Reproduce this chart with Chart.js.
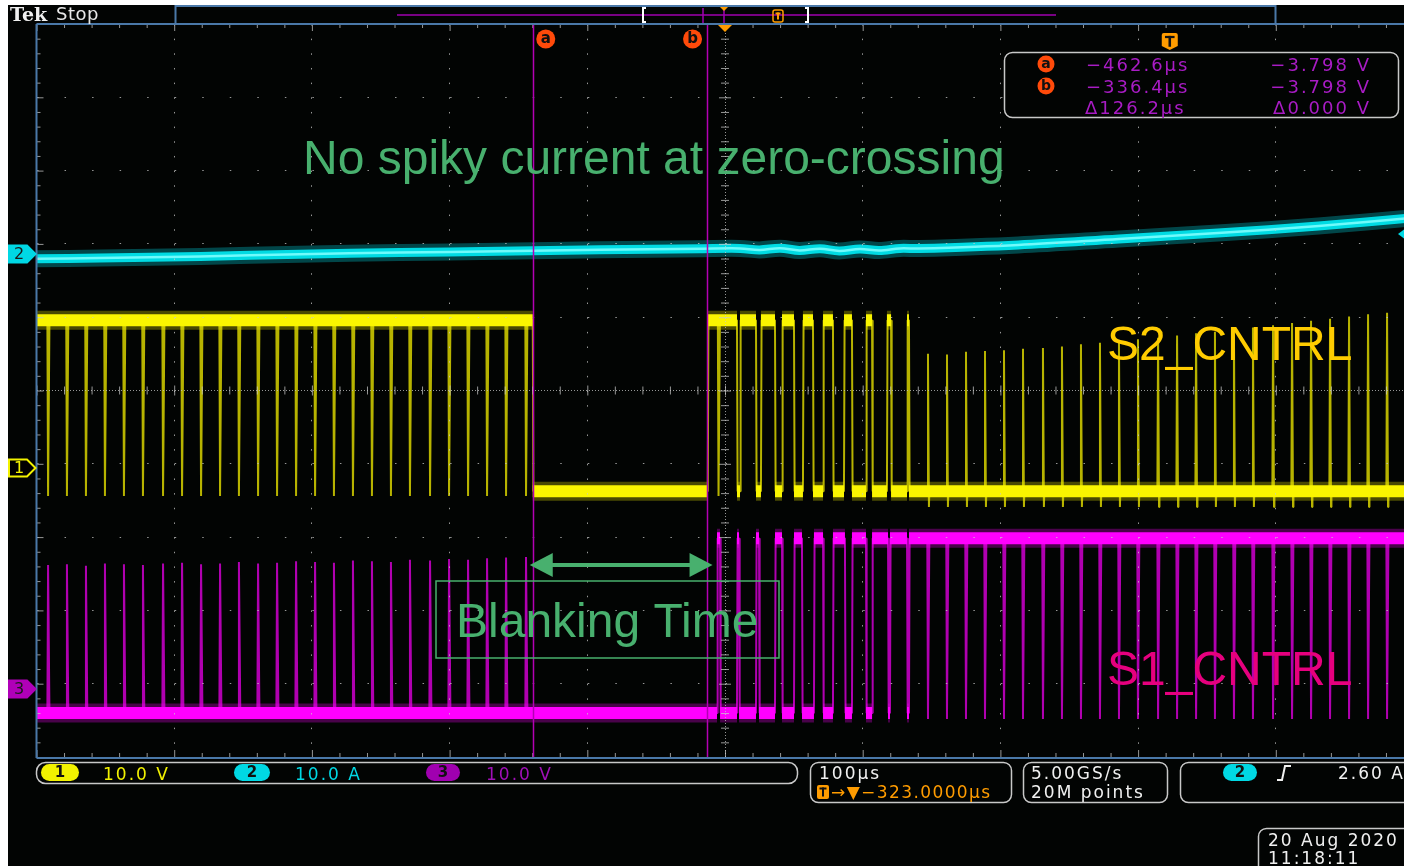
<!DOCTYPE html>
<html>
<head>
<meta charset="utf-8">
<script src="https://cdn.jsdelivr.net/npm/chart.js@4.4.1/dist/chart.umd.min.js"></script>
<style>
  html, body { margin: 0; padding: 0; background: #fff; overflow: hidden; width: 1404px; height: 866px; }
  canvas { position: absolute; left: 0; top: 0; }
</style>
</head>
<body>
<canvas id="scope" width="1420" height="866"></canvas>
<script>
// ---- Horizontal: 100 µs/div, 10 divisions, centre at -323 µs ----
const X_MIN = -823;
const X_MAX = 177;
const X_CENTER = -323;
const cursorTimes = [-462.6, -336.4];

// ---- Vertical settings (divisions from screen centre, units per division) ----
const ch1OffsetDiv = -1.05;
const ch2OffsetDiv = 1.876;
const ch3OffsetDiv = -4.06;
const UNITS_PER_DIV = 10;

// ---- CH2: inductor current (A) ----
const ch2Times = [-823, -777, -704, -632, -559, -487, -414, -341, -312, -298, -283, -269, -254, -240, -225, -211, -196, -182, -110, -37, 35, 108, 177];
const ch2Amps  = [-0.80, -0.68, -0.48, -0.16, 0.05, 0.25, 0.45, 0.58, 0.62, 0.42, 0.66, 0.35, 0.58, 0.28, 0.55, 0.34, 0.62, 0.60, 1.09, 1.91, 2.73, 3.68, 4.80];

// ---- CH1: S2_CNTRL gate drive (V) ----
const ch1HighLevel = 20.1;
const ch1LowLevel = -3.25;
const ch1HighSpans = [
  [-823, -462.6], [-335.5, -314.3], [-312.1, -300.5], [-296.9, -286.7], [-281.6, -272.9],
  [-266.4, -259.1], [-251.8, -244.6], [-236.6, -230.8], [-220.6, -216.2], [-205.4, -202.4], [-190.8, -189.4]
];
const ch1DipTimes = [-814.6, -800.9, -787.1, -773.3, -759.5, -745.7, -731.1, -717.3, -703.5, -689.7, -676.0, -662.1, -648.3,
  -634.5, -620.7, -607.0, -593.2, -579.4, -565.6, -551.8, -537.2, -523.4, -509.6, -495.8, -482.0, -467.5, -327.7];
const ch1DipFloor = -3.9;
const ch1SpikeTimes = [-175.6, -161.8, -148.0, -134.2, -120.4, -106.6, -92.1, -78.3, -64.5, -50.7, -36.9, -23.1, -8.5,
  5.3, 19.1, 32.8, 46.6, 60.4, 75.0, 88.8, 102.6, 116.4, 130.2, 144.0, 157.8];
const ch1SpikePeaks = [15.5, 15.4, 15.8, 15.9, 16.0, 16.2, 16.3, 16.5, 16.8, 17.0, 17.2, 17.5, 17.7,
  18.0, 18.3, 18.5, 18.8, 19.1, 19.4, 19.7, 20.0, 20.3, 20.6, 20.9, 21.1];
const ch1SpikeTail = -5.4;

// ---- CH3: S1_CNTRL gate drive (V) ----
const ch3HighLevel = 20.45;
const ch3LowLevel = -3.4;
const ch3HighSpans = [
  [-328.8, -326.6], [-314.3, -312.8], [-300.5, -298.3], [-286.7, -281.6], [-272.9, -267.1], [-258.4, -251.8],
  [-244.6, -235.9], [-230.8, -220.6], [-216.2, -204.6], [-203.2, -190.8], [-189.4, 177]
];
const ch3SpikeTimes = [-814.6, -800.9, -787.1, -773.3, -759.5, -745.7, -731.1, -717.3, -703.5, -689.7, -676.0, -662.1, -648.3,
  -634.5, -620.7, -607.0, -593.2, -579.4, -565.6, -551.8, -537.2, -523.4, -509.6, -495.8, -482.0, -467.5];
const ch3SpikePeaks = [16.8, 16.9, 16.7, 17.0, 16.9, 16.8, 17.0, 17.1, 16.9, 17.0, 17.2, 17.0, 17.1,
  17.3, 17.2, 17.1, 17.4, 17.3, 17.2, 17.5, 17.4, 17.6, 17.5, 17.7, 17.8, 17.9];
const ch3DipTimes = [-175.6, -161.8, -148.0, -134.2, -120.4, -106.6, -92.1, -78.3, -64.5, -50.7, -36.9, -23.1, -8.5,
  5.3, 19.1, 32.8, 46.6, 60.4, 75.0, 88.8, 102.6, 116.4, 130.2, 144.0, 157.8];
const ch3DipFloor = -4.2;

// ---------- trace builders ----------
// Full waveform: level steps at span edges plus narrow excursions.
function buildTrace(spans, hi, lo, pulses) {
  const events = [];
  spans.forEach(([a, b]) => {
    if (a > X_MIN) events.push({ t: a, to: hi });
    if (b < X_MAX) events.push({ t: b, to: lo });
  });
  pulses.forEach(p => events.push(p));
  events.sort((p, q) => p.t - q.t);
  let level = spans.some(([a]) => a <= X_MIN) ? hi : lo;
  const pts = [{ x: X_MIN, y: level }];
  events.forEach(e => {
    if (e.to !== undefined) {
      pts.push({ x: e.t, y: level });
      level = e.to;
      pts.push({ x: e.t + 0.45, y: level });
    } else {
      pts.push({ x: e.t - 0.5, y: level }, { x: e.t, y: e.peak });
      if (e.tail !== undefined) pts.push({ x: e.t + 0.7, y: e.tail });
      pts.push({ x: e.t + 1.0, y: level });
    }
  });
  pts.push({ x: X_MAX, y: level });
  return pts;
}
// Horizontal level bands (high spans and the gaps between them), separated by gaps.
function buildBands(spans, hi, lo) {
  const pts = [];
  let cursor = X_MIN;
  spans.forEach(([a, b]) => {
    if (a > cursor) pts.push({ x: cursor, y: lo }, { x: a, y: lo }, { x: a, y: null });
    pts.push({ x: Math.max(a, X_MIN), y: hi }, { x: Math.min(b, X_MAX), y: hi }, { x: b, y: null });
    cursor = b;
  });
  if (cursor < X_MAX) pts.push({ x: cursor, y: lo }, { x: X_MAX, y: lo });
  return pts;
}

const ch1Pulses = ch1DipTimes.map(t => ({ t, peak: ch1DipFloor }))
  .concat(ch1SpikeTimes.map((t, i) => ({ t, peak: ch1SpikePeaks[i], tail: ch1SpikeTail })));
const ch3Pulses = ch3SpikeTimes.map((t, i) => ({ t, peak: ch3SpikePeaks[i] }))
  .concat(ch3DipTimes.map(t => ({ t, peak: ch3DipFloor })));

const ch1Wave = buildTrace(ch1HighSpans, ch1HighLevel, ch1LowLevel, ch1Pulses);
const ch1Bands = buildBands(ch1HighSpans, ch1HighLevel, ch1LowLevel);
const ch3Wave = buildTrace(ch3HighSpans, ch3HighLevel, ch3LowLevel, ch3Pulses);
const ch3Bands = buildBands(ch3HighSpans, ch3HighLevel, ch3LowLevel);
const ch2Points = ch2Times.map((t, i) => ({ x: t, y: ch2Amps[i] }));

function lineSet(data, axis, color, width, order, extra) {
  return Object.assign({
    data, yAxisID: axis, borderColor: color, borderWidth: width, order,
    pointRadius: 0, tension: 0, spanGaps: false, fill: false,
    borderCapStyle: 'butt', borderJoinStyle: 'miter'
  }, extra || {});
}

const datasets = [
  lineSet(ch2Points, 'y2', 'rgba(130,255,255,0.85)', 2.5, 0, { tension: 0.35 }),
  lineSet(ch2Points, 'y2', 'rgba(0,228,236,0.95)', 9, 1, { tension: 0.35 }),
  lineSet(ch2Points, 'y2', 'rgba(0,225,235,0.3)', 17, 2, { tension: 0.35 }),
  lineSet(ch1Bands, 'y1', 'rgba(250,245,0,1)', 12, 3),
  lineSet(ch1Bands, 'y1', 'rgba(240,235,0,0.3)', 19, 4),
  lineSet(ch1Wave, 'y1', 'rgba(215,210,0,0.85)', 2, 5, { borderJoinStyle: 'bevel' }),
  lineSet(ch3Bands, 'y3', 'rgba(255,0,255,1)', 12, 6),
  lineSet(ch3Bands, 'y3', 'rgba(240,0,240,0.3)', 19, 7),
  lineSet(ch3Wave, 'y3', 'rgba(220,0,220,0.8)', 2, 8, { borderJoinStyle: 'bevel' })
];

// ---------- layout constants for the screen chrome ----------
const GRID_COLOR = 'rgba(200,200,200,0.75)';
const EDGE_BLUE = '#4a78a8';
const UI_FONT = '"DejaVu Sans", sans-serif';
const NOTE_FONT = '"Liberation Sans", Arial, sans-serif';
const NOTE_GREEN = '#48b06e';

function channelRange(offsetDiv) {
  return { min: (-5 - offsetDiv) * UNITS_PER_DIV, max: (5 - offsetDiv) * UNITS_PER_DIV };
}

const screenBackground = {
  id: 'screenBackground',
  beforeDraw(chart) {
    const c = chart.ctx;
    c.save();
    c.fillStyle = '#ffffff';
    c.fillRect(0, 0, chart.width, chart.height);
    c.fillStyle = '#020403';
    c.fillRect(8, 5, chart.width - 8, chart.height - 5);
    c.restore();
  }
};

function roundBox(c, x, y, w, h, r, stroke) {
  c.beginPath();
  c.roundRect(x, y, w, h, r);
  c.strokeStyle = stroke;
  c.lineWidth = 1.5;
  c.stroke();
}
function pill(c, cx, cy, w, h, fill, label, textColor) {
  c.beginPath();
  c.roundRect(cx - w / 2, cy - h / 2, w, h, h / 2);
  c.fillStyle = fill;
  c.fill();
  c.fillStyle = textColor;
  c.font = 'bold 15px ' + UI_FONT;
  c.textAlign = 'center';
  c.textBaseline = 'middle';
  c.fillText(label, cx, cy + 1);
  c.textAlign = 'left';
  c.textBaseline = 'alphabetic';
}
function text(c, s, x, y, color, font, spacing) {
  c.font = font;
  c.fillStyle = color;
  c.letterSpacing = spacing || '0px';
  c.fillText(s, x, y);
  c.letterSpacing = '0px';
}
function marker(c, y, color, label, filled) {
  c.beginPath();
  c.moveTo(9, y - 8.5); c.lineTo(27, y - 8.5); c.lineTo(35.5, y); c.lineTo(27, y + 8.5); c.lineTo(9, y + 8.5); c.closePath();
  if (filled) { c.fillStyle = color; c.fill(); }
  else { c.fillStyle = '#000'; c.fill(); }
  c.strokeStyle = color; c.lineWidth = 2; c.stroke();
  c.fillStyle = filled ? '#1a1a1a' : color;
  c.font = '16px ' + UI_FONT;
  c.textAlign = 'center'; c.textBaseline = 'middle';
  c.fillText(label, 19, y + 1);
  c.textAlign = 'left'; c.textBaseline = 'alphabetic';
}
function cursorBadge(c, cx, cy, r, label) {
  c.beginPath();
  c.arc(cx, cy, r, 0, Math.PI * 2);
  c.fillStyle = '#ff4a0a';
  c.fill();
  c.fillStyle = '#111';
  c.font = 'bold ' + Math.round(r * 1.6) + 'px ' + UI_FONT;
  c.textAlign = 'center'; c.textBaseline = 'middle';
  c.fillText(label, cx, cy);
  c.textAlign = 'left'; c.textBaseline = 'alphabetic';
}
function triggerShield(c, cx, cy, s) {
  c.beginPath();
  c.moveTo(cx - s / 2, cy - s / 2 + 2);
  c.quadraticCurveTo(cx - s / 2, cy - s / 2, cx - s / 2 + 2, cy - s / 2);
  c.lineTo(cx + s / 2 - 2, cy - s / 2);
  c.quadraticCurveTo(cx + s / 2, cy - s / 2, cx + s / 2, cy - s / 2 + 2);
  c.lineTo(cx + s / 2, cy + s / 2 - 3);
  c.lineTo(cx, cy + s / 2 + 1);
  c.lineTo(cx - s / 2, cy + s / 2 - 3);
  c.closePath();
  c.fillStyle = '#ff9c00';
  c.fill();
  c.fillStyle = '#111';
  c.fillRect(cx - s * 0.3, cy - s * 0.32, s * 0.6, s * 0.14);
  c.fillRect(cx - s * 0.08, cy - s * 0.32, s * 0.16, s * 0.68);
}

const scopeChrome = {
  id: 'scopeChrome',
  afterDraw(chart) {
    const c = chart.ctx;
    const a = chart.chartArea;
    const xs = chart.scales.x;
    const ys = chart.scales.yDiv;
    c.save();

    // graticule ticks along centre lines and edges
    const divX = (xs.getPixelForValue(X_MIN + 100) - xs.getPixelForValue(X_MIN));
    const divY = (ys.getPixelForValue(0) - ys.getPixelForValue(1));
    const cx = xs.getPixelForValue(X_CENTER);
    const cy = ys.getPixelForValue(0);
    c.strokeStyle = GRID_COLOR;
    c.lineWidth = 1;
    c.beginPath();
    for (let k = 0; k <= 50; k++) {
      const x = a.left + k * divX / 5;
      const major = k % 5 === 0;
      c.moveTo(x + 0.5, cy - (major ? 5 : 4)); c.lineTo(x + 0.5, cy + (major ? 5 : 4));
      c.moveTo(x + 0.5, a.top); c.lineTo(x + 0.5, a.top + (major ? 7 : 4));
      c.moveTo(x + 0.5, a.bottom); c.lineTo(x + 0.5, a.bottom - (major ? 7 : 4));
    }
    for (let k = 0; k <= 50; k++) {
      const y = a.top + k * divY / 5;
      const major = k % 5 === 0;
      c.moveTo(cx - (major ? 6 : 4), y + 0.5); c.lineTo(cx + (major ? 6 : 4), y + 0.5);
      c.moveTo(a.left, y + 0.5); c.lineTo(a.left + (major ? 7 : 4), y + 0.5);
    }
    c.stroke();

    // graticule frame
    c.strokeStyle = EDGE_BLUE;
    c.lineWidth = 2;
    c.beginPath();
    c.moveTo(a.left, a.top); c.lineTo(chart.width, a.top);
    c.moveTo(a.left, a.top); c.lineTo(a.left, a.bottom + 1);
    c.moveTo(a.left, a.bottom + 1); c.lineTo(chart.width, a.bottom + 1);
    c.stroke();

    // cursors
    c.strokeStyle = '#b400b4';
    c.lineWidth = 1.5;
    cursorTimes.forEach(t => {
      const x = Math.round(xs.getPixelForValue(t)) + 0.5;
      c.beginPath(); c.moveTo(x, a.top); c.lineTo(x, a.bottom); c.stroke();
    });
    const xa = xs.getPixelForValue(cursorTimes[0]);
    const xb = xs.getPixelForValue(cursorTimes[1]);
    cursorBadge(c, xa + 13, 39, 9.5, 'a');
    cursorBadge(c, xb - 14, 39, 9.5, 'b');

    // trigger position marker
    c.fillStyle = '#ff9c00';
    c.beginPath(); c.moveTo(cx - 7, a.top + 1); c.lineTo(cx + 7, a.top + 1); c.lineTo(cx, a.top + 8); c.closePath(); c.fill();
    triggerShield(c, xs.getPixelForValue(0), 41, 16);

    // record view bar
    c.strokeStyle = EDGE_BLUE; c.lineWidth = 2;
    c.beginPath(); c.rect(175.5, 6, 1100, 18); c.stroke();
    c.strokeStyle = '#a000b0'; c.lineWidth = 1.5;
    c.beginPath(); c.moveTo(397, 15); c.lineTo(1056, 15); c.stroke();
    c.beginPath(); c.moveTo(703, 8); c.lineTo(703, 23); c.moveTo(724, 8); c.lineTo(724, 23); c.stroke();
    c.strokeStyle = '#ffffff'; c.lineWidth = 2;
    c.beginPath();
    c.moveTo(646, 8); c.lineTo(643, 8); c.lineTo(643, 22); c.lineTo(646, 22);
    c.moveTo(805, 8); c.lineTo(808, 8); c.lineTo(808, 22); c.lineTo(805, 22);
    c.stroke();
    c.fillStyle = '#ff9c00';
    c.beginPath(); c.moveTo(720, 7); c.lineTo(728, 7); c.lineTo(724, 11); c.closePath(); c.fill();
    c.strokeStyle = '#ff9c00'; c.lineWidth = 1.5;
    c.beginPath(); c.roundRect(773, 10, 10, 12, 2); c.stroke();
    c.fillStyle = '#ff9c00';
    c.fillRect(775.5, 12.5, 5, 2); c.fillRect(777, 12.5, 2, 7);

    // Tek Stop
    text(c, 'Tek', 10, 21, '#f0f0f0', 'bold 19px "DejaVu Serif", serif');
    text(c, 'Stop', 56, 20, '#e8e8e8', '18px ' + UI_FONT, '0.5px');

    // channel markers
    marker(c, 254, '#00d8e4', '2', true);
    marker(c, 468, '#f2f200', '1', false);
    marker(c, 689, '#b000b8', '3', true);
    c.fillStyle = '#00d8e4';
    c.beginPath(); c.moveTo(1398, 234); c.lineTo(1406, 228); c.lineTo(1406, 240); c.closePath(); c.fill();

    // cursor readout
    c.fillStyle = '#020403';
    c.beginPath(); c.roundRect(1004.5, 52.5, 394, 65, 8); c.fill();
    roundBox(c, 1004.5, 52.5, 394, 65, 8, '#c8c8c8');
    cursorBadge(c, 1046, 64, 8.5, 'a');
    cursorBadge(c, 1046, 86, 8.5, 'b');
    const ro = '#a81cc4';
    const roFont = '18px ' + UI_FONT;
    text(c, '\u2212462.6\u00b5s', 1086, 71, ro, roFont, '2px');
    text(c, '\u2212336.4\u00b5s', 1086, 93, ro, roFont, '2px');
    text(c, '\u0394126.2\u00b5s', 1085, 114, ro, roFont, '2px');
    c.textAlign = 'right';
    text(c, '\u22123.798 V', 1371, 71, ro, roFont, '2px');
    text(c, '\u22123.798 V', 1371, 93, ro, roFont, '2px');
    text(c, '\u03940.000 V', 1371, 114, ro, roFont, '2px');
    c.textAlign = 'left';

    // bottom status boxes
    const sFont = '17px ' + UI_FONT;
    roundBox(c, 36.5, 762.5, 761, 21, 9, '#c8c8c8');
    pill(c, 60, 772.5, 38, 17, '#f2f200', '1', '#111');
    text(c, '10.0 V', 103, 780, '#f2f200', sFont, '2px');
    pill(c, 252, 772.5, 36, 17, '#00d8e4', '2', '#111');
    text(c, '10.0 A', 295, 780, '#00d8e4', sFont, '2px');
    pill(c, 443, 772.5, 34, 17, '#a000b0', '3', '#111');
    text(c, '10.0 V', 486, 780, '#a010b8', sFont, '2px');

    roundBox(c, 810.5, 762.5, 201, 40, 8, '#c8c8c8');
    text(c, '100\u00b5s', 819, 779, '#f0f0f0', sFont, '2px');
    c.fillStyle = '#ff9c00';
    c.beginPath(); c.roundRect(817, 785, 12, 14, 2); c.fill();
    c.fillStyle = '#111'; c.fillRect(819.5, 787.5, 7, 2); c.fillRect(822, 787.5, 2, 9);
    text(c, '\u2192\u25bc\u2212323.0000\u00b5s', 831, 798, '#ff9c00', sFont, '1.4px');

    roundBox(c, 1023.5, 762.5, 144, 40, 8, '#c8c8c8');
    text(c, '5.00GS/s', 1031, 779, '#f0f0f0', sFont, '2px');
    text(c, '20M points', 1031, 798, '#f0f0f0', sFont, '2px');

    roundBox(c, 1180.5, 762.5, 260, 40, 8, '#c8c8c8');
    pill(c, 1240, 772.5, 34, 17, '#00d8e4', '2', '#111');
    c.strokeStyle = '#f0f0f0'; c.lineWidth = 2;
    c.beginPath(); c.moveTo(1277, 780); c.lineTo(1282, 780); c.lineTo(1285, 766); c.lineTo(1291, 766); c.stroke();
    text(c, '2.60 A', 1338, 779, '#f0f0f0', sFont, '2px');

    roundBox(c, 1258.5, 828.5, 200, 50, 8, '#c8c8c8');
    text(c, '20 Aug 2020', 1268, 846, '#f0f0f0', sFont, '2px');
    text(c, '11:18:11', 1268, 864, '#f0f0f0', sFont, '2px');

    // annotations
    text(c, 'No spiky current at zero-crossing', 303, 174, NOTE_GREEN, '48px ' + NOTE_FONT);
    text(c, 'S2_CNTRL', 1107, 360, '#ffcc00', '48px ' + NOTE_FONT);
    text(c, 'S1_CNTRL', 1107, 685, '#e6007e', '48px ' + NOTE_FONT);

    // blanking interval arrow between the cursors
    const ay = 565;
    const ax0 = xa - 3, ax1 = xb + 6;
    c.fillStyle = NOTE_GREEN;
    c.strokeStyle = NOTE_GREEN;
    c.lineWidth = 4;
    c.beginPath(); c.moveTo(ax0 + 18, ay); c.lineTo(ax1 - 18, ay); c.stroke();
    c.beginPath(); c.moveTo(ax0, ay); c.lineTo(ax0 + 23, ay - 12); c.lineTo(ax0 + 23, ay + 12); c.closePath(); c.fill();
    c.beginPath(); c.moveTo(ax1, ay); c.lineTo(ax1 - 23, ay - 12); c.lineTo(ax1 - 23, ay + 12); c.closePath(); c.fill();
    c.lineWidth = 1.5;
    c.strokeRect(436, 581, 343, 77);
    text(c, 'Blanking Time', 456, 637, NOTE_GREEN, '48px ' + NOTE_FONT);

    c.restore();
  }
};

const xMajors = [];
for (let v = X_MIN; v <= X_MAX + 1e-6; v += 100) xMajors.push(v);
const yMajors = [];
for (let v = -5; v <= 5; v += 1) yMajors.push(v);

new Chart(document.getElementById('scope'), {
  type: 'line',
  data: { datasets },
  plugins: [screenBackground, scopeChrome],
  options: {
    responsive: false,
    animation: false,
    events: [],
    parsing: true,
    layout: { padding: { left: 36.5, top: 24, right: 6.5, bottom: 109 } },
    plugins: { legend: { display: false }, tooltip: { enabled: false } },
    scales: {
      x: {
        type: 'linear', min: X_MIN, max: X_MAX,
        afterBuildTicks: s => { s.ticks = xMajors.map(v => ({ value: v })); },
        ticks: { display: false },
        grid: { color: GRID_COLOR, lineWidth: 1, drawTicks: false, z: 1 },
        border: { display: false, dash: ctx => (ctx.tick && Math.abs(ctx.tick.value - X_CENTER) < 1e-6) ? [1, 2] : [1.5, 13.16] }
      },
      yDiv: {
        type: 'linear', position: 'left', min: -5, max: 5,
        afterBuildTicks: s => { s.ticks = yMajors.map(v => ({ value: v })); },
        ticks: { display: false },
        grid: { color: GRID_COLOR, lineWidth: 1, drawTicks: false, z: 1 },
        border: { display: false, dash: ctx => (ctx.tick && ctx.tick.value === 0) ? [1, 2] : [1.5, 26.04] }
      },
      y1: Object.assign({ type: 'linear', display: false }, channelRange(ch1OffsetDiv)),
      y2: Object.assign({ type: 'linear', display: false }, channelRange(ch2OffsetDiv)),
      y3: Object.assign({ type: 'linear', display: false }, channelRange(ch3OffsetDiv))
    }
  }
});
</script>
</body>
</html>
